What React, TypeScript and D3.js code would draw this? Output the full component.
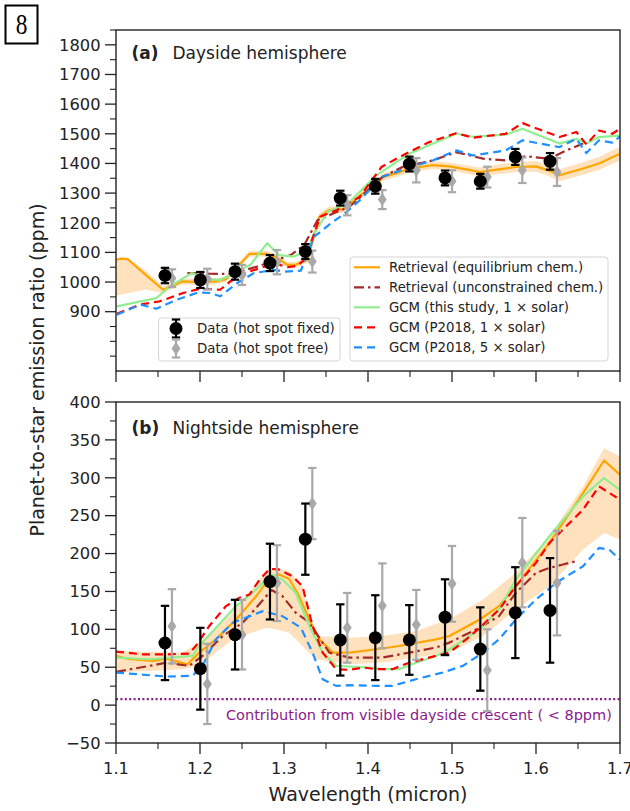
import React from "react";
import * as d3 from "d3";

// ---------- observed spectra (ppm) ----------
const binWl = [1.1583, 1.2004, 1.2417, 1.2833, 1.3254, 1.367, 1.4087, 1.4492, 1.4917, 1.5337, 1.5754, 1.6167];
const freeShift = 0.0083;

const dayFixed = [1022, 1007, 1035, 1064, 1103, 1283, 1323, 1398, 1351, 1340, 1422, 1407];
const dayFixedErr = [26, 27, 27, 27, 25, 25, 25, 25, 25, 25, 27, 28];
const dayFree = [1013, 1010, 1024, 1067, 1069, 1259, 1278, 1377, 1340, 1354, 1377, 1371];
const dayFreeErr = [30, 35, 34, 41, 37, 34, 32, 41, 37, 35, 43, 47];

const nightFixed = [82, 48, 93, 163, 219, 86, 89, 86, 116, 74, 122, 125];
const nightFixedErr = [49, 54, 46, 50, 47, 47, 56, 46, 50, 55, 60, 69];
const nightFree = [104, 28, 93, 161, 266, 102, 131, 106, 160, 46, 188, 161];
const nightFreeErr = [49, 53, 46, 50, 47, 46, 56, 46, 50, 54, 59, 69];

// ---------- dayside models ----------
const dayEqWl = [1.100, 1.106, 1.114, 1.135, 1.156, 1.179, 1.199, 1.219, 1.231, 1.259, 1.279, 1.290, 1.304, 1.314, 1.328, 1.342, 1.354, 1.370, 1.378, 1.394, 1.410, 1.417, 1.437, 1.449, 1.477, 1.497, 1.517, 1.533, 1.556, 1.576, 1.600, 1.616, 1.628, 1.656, 1.675, 1.700];
const dayEqPpm = [1075, 1079, 1077, 1025, 974, 1002, 1000, 1002, 1010, 1095, 1095, 1085, 1058, 1058, 1075, 1220, 1243, 1245, 1263, 1299, 1327, 1354, 1370, 1383, 1394, 1390, 1380, 1371, 1380, 1388, 1390, 1375, 1360, 1383, 1400, 1433];
const dayEqLo = [955, 958, 962, 975, 962, 992, 990, 992, 1000, 1085, 1085, 1075, 1048, 1048, 1065, 1208, 1231, 1233, 1251, 1287, 1315, 1341, 1357, 1370, 1381, 1377, 1366, 1356, 1364, 1371, 1372, 1356, 1340, 1362, 1378, 1410];
const dayEqHi = [1080, 1082, 1082, 1040, 986, 1012, 1010, 1012, 1020, 1105, 1105, 1095, 1068, 1068, 1085, 1232, 1255, 1257, 1275, 1311, 1339, 1367, 1383, 1396, 1407, 1403, 1394, 1386, 1396, 1405, 1408, 1394, 1380, 1404, 1422, 1456];

const dayUncWl = [1.185, 1.212, 1.236, 1.268, 1.308, 1.324, 1.340, 1.378, 1.417, 1.441, 1.477, 1.505, 1.537, 1.564, 1.588, 1.616, 1.636, 1.656];
const dayUncPpm = [1030, 1028, 1027, 1052, 1091, 1125, 1209, 1254, 1354, 1388, 1410, 1438, 1416, 1410, 1424, 1416, 1444, 1467];

const dayGcmWl = [1.101, 1.148, 1.164, 1.190, 1.208, 1.224, 1.260, 1.280, 1.294, 1.312, 1.328, 1.336, 1.352, 1.376, 1.410, 1.449, 1.505, 1.525, 1.564, 1.584, 1.628, 1.648, 1.660, 1.675, 1.700];
const dayGcmPpm = [918, 946, 985, 1030, 1010, 1007, 1058, 1131, 1091, 1086, 1108, 1164, 1237, 1265, 1360, 1433, 1500, 1490, 1497, 1517, 1467, 1483, 1467, 1489, 1494];

const dayP1Wl = [1.101, 1.129, 1.152, 1.180, 1.198, 1.212, 1.224, 1.236, 1.252, 1.272, 1.288, 1.304, 1.316, 1.324, 1.332, 1.343, 1.363, 1.390, 1.406, 1.416, 1.445, 1.473, 1.505, 1.525, 1.564, 1.584, 1.628, 1.648, 1.660, 1.675, 1.691, 1.700];
const dayP1Ppm = [893, 924, 935, 963, 976, 976, 974, 1002, 1030, 1047, 1064, 1050, 1055, 1075, 1131, 1220, 1243, 1287, 1349, 1388, 1433, 1472, 1502, 1487, 1500, 1536, 1489, 1506, 1464, 1511, 1500, 1517];

const dayP5Wl = [1.101, 1.129, 1.148, 1.172, 1.198, 1.212, 1.224, 1.244, 1.264, 1.288, 1.300, 1.320, 1.336, 1.356, 1.372, 1.390, 1.405, 1.417, 1.445, 1.477, 1.505, 1.525, 1.564, 1.584, 1.628, 1.648, 1.660, 1.675, 1.691, 1.700];
const dayP5Ppm = [890, 924, 910, 940, 965, 963, 952, 996, 1030, 1041, 1035, 1038, 1153, 1198, 1231, 1275, 1320, 1355, 1383, 1410, 1444, 1427, 1444, 1478, 1455, 1483, 1435, 1478, 1470, 1491];

// ---------- nightside models ----------
const nightEqWl = [1.100, 1.116, 1.144, 1.160, 1.185, 1.199, 1.219, 1.243, 1.267, 1.283, 1.294, 1.306, 1.318, 1.330, 1.342, 1.358, 1.378, 1.410, 1.437, 1.481, 1.497, 1.533, 1.556, 1.576, 1.616, 1.656, 1.681, 1.700];
const nightEqPpm = [65, 60.5, 58.3, 61.4, 54, 69.3, 86.8, 113, 143.9, 168, 172.4, 166.7, 143.9, 113, 86.8, 69.3, 69.3, 73.7, 78, 86.8, 91.2, 113, 130.7, 157, 214, 279.8, 322.8, 304];

const nightBandWl = [1.100, 1.179, 1.199, 1.239, 1.279, 1.290, 1.306, 1.322, 1.338, 1.378, 1.417, 1.457, 1.497, 1.537, 1.576, 1.616, 1.656, 1.681, 1.700];
const nightBandLo = [43, 47.4, 51.8, 86.8, 102.2, 100, 95.6, 78, 60.5, 54, 56.1, 62.7, 69.3, 91.2, 126.3, 157, 205.3, 227.2, 218.4];
const nightBandHi = [71.5, 69.3, 82.5, 121.9, 176.8, 181.1, 176.8, 157, 91.2, 89, 91.2, 97.8, 113.2, 139.5, 174.6, 222.8, 288.6, 339, 328];

const nightUncWl = [1.100, 1.140, 1.160, 1.187, 1.203, 1.227, 1.251, 1.267, 1.285, 1.298, 1.314, 1.328, 1.338, 1.354, 1.378, 1.417, 1.449, 1.481, 1.497, 1.533, 1.556, 1.576, 1.600, 1.616, 1.632, 1.648];
const nightUncPpm = [43.9, 51.8, 56.1, 51.8, 64.9, 91.2, 108.8, 128.5, 151.8, 143.9, 121.9, 111, 95.6, 69.3, 62.7, 62.7, 69.3, 76, 82.5, 102.2, 117.5, 148.2, 174.6, 181, 185.5, 190];

const nightGcmWl = [1.100, 1.140, 1.191, 1.199, 1.243, 1.267, 1.285, 1.298, 1.314, 1.330, 1.346, 1.362, 1.402, 1.417, 1.437, 1.457, 1.481, 1.497, 1.533, 1.556, 1.576, 1.616, 1.656, 1.681, 1.700];
const nightGcmPpm = [62.7, 60.5, 64.9, 78, 130.7, 152.6, 172.4, 165.8, 148.2, 104.4, 69.3, 51.8, 49.6, 47.4, 47.4, 56, 64.9, 73.7, 100, 126.3, 165.8, 222.8, 275.4, 299.6, 284];

const nightP1Wl = [1.100, 1.132, 1.160, 1.187, 1.195, 1.211, 1.231, 1.247, 1.259, 1.271, 1.283, 1.294, 1.310, 1.322, 1.334, 1.346, 1.362, 1.378, 1.394, 1.410, 1.429, 1.449, 1.481, 1.497, 1.517, 1.533, 1.556, 1.576, 1.600, 1.616, 1.636, 1.656, 1.675, 1.700];
const nightP1Ppm = [70.6, 67, 67, 68, 78, 104.4, 130.7, 141.7, 146, 165.8, 179.8, 179, 170, 157, 104.4, 69.3, 47.4, 46.5, 49.6, 47.4, 47.4, 56, 65, 69.3, 86.8, 102.2, 126, 157, 187.7, 214, 236, 258, 288.6, 271];

const nightP5Wl = [1.100, 1.160, 1.191, 1.203, 1.219, 1.239, 1.275, 1.298, 1.320, 1.334, 1.346, 1.362, 1.378, 1.410, 1.429, 1.457, 1.489, 1.513, 1.537, 1.556, 1.576, 1.600, 1.624, 1.656, 1.675, 1.687, 1.700];
const nightP5Ppm = [43, 37.7, 38.6, 51.8, 86.8, 108.8, 124, 117.5, 102.2, 69.3, 34.2, 25.4, 26.3, 25.4, 25.4, 34.2, 43, 51.8, 69.3, 86.8, 113, 139.5, 161.4, 183.3, 207.5, 205.3, 192];

const crescentPpm = 8;

// ---------- axis ticks ----------
const xMajor = [1.1, 1.2, 1.3, 1.4, 1.5, 1.6, 1.7];
const xMinor = [1.15, 1.25, 1.35, 1.45, 1.55, 1.65];
const dayMajor = [900, 1000, 1100, 1200, 1300, 1400, 1500, 1600, 1700, 1800];
const dayMinor = [750, 800, 850, 950, 1050, 1150, 1250, 1350, 1450, 1550, 1650, 1750, 1850];
const nightMajor = [-50, 0, 50, 100, 150, 200, 250, 300, 350, 400];
const nightMinor = [-25, 25, 75, 125, 175, 225, 275, 325, 375];

const modelLegend = [
  "Retrieval (equilibrium chem.)",
  "Retrieval (unconstrained chem.)",
  "GCM (this study, 1 \u00d7  solar)",
  "GCM (P2018, 1 \u00d7  solar)",
  "GCM (P2018, 5 \u00d7  solar)",
];
const dataLegend = ["Data (hot spot fixed)", "Data (hot spot free)"];

// ---------- styling ----------
const FONT = "DejaVu Sans, sans-serif";
const INK = "#222";
const C_EQ = "#ffa500";
const C_UNC = "#a52a2a";
const C_GCM = "#90ee90";
const C_P1 = "#ff0000";
const C_P5 = "#1e90ff";
const C_BAND = "#ffe2bd";
const C_FREE = "#a9a9a9";
const C_CRES = "#8b1a8b";

const styles = {
  eq: { stroke: C_EQ, dash: undefined as string | undefined },
  unc: { stroke: C_UNC, dash: "10,4,2.5,4" },
  gcm: { stroke: C_GCM, dash: undefined as string | undefined },
  p1: { stroke: C_P1, dash: "8,5" },
  p5: { stroke: C_P5, dash: "8,5" },
};

const X0 = 116, X1 = 620;
const x = d3.scaleLinear().domain([1.1, 1.7]).range([X0, X1]);
const yDay = d3.scaleLinear().domain([700, 1850]).range([371, 30]);
const yNight = d3.scaleLinear().domain([-50, 400]).range([743, 402]);

type Scale = d3.ScaleLinear<number, number>;

function curve(wl: number[], v: number[], y: Scale) {
  const pts = wl.map((w, i) => [w, v[i]] as [number, number]);
  return d3.line<[number, number]>().x((d) => x(d[0])).y((d) => y(d[1]))(pts) || "";
}

function band(wl: number[], lo: number[], hi: number[], y: Scale) {
  const idx = wl.map((_, i) => i);
  return (
    d3
      .area<number>()
      .x((i) => x(wl[i]))
      .y0((i) => y(lo[i]))
      .y1((i) => y(hi[i]))(idx) || ""
  );
}

function ModelLine({ d, s }: { d: string; s: { stroke: string; dash?: string } }) {
  return <path d={d} fill="none" stroke={s.stroke} strokeWidth={2.2} strokeDasharray={s.dash} strokeLinejoin="round" />;
}

function ErrPoint({ cx, cy, lo, hi, color, marker }: { cx: number; cy: number; lo: number; hi: number; color: string; marker: "o" | "d" }) {
  const cap = 4.2;
  return (
    <g>
      <line x1={cx} x2={cx} y1={lo} y2={hi} stroke={color} strokeWidth={2.2} />
      <line x1={cx - cap} x2={cx + cap} y1={lo} y2={lo} stroke={color} strokeWidth={2.2} />
      <line x1={cx - cap} x2={cx + cap} y1={hi} y2={hi} stroke={color} strokeWidth={2.2} />
      {marker === "o" ? (
        <circle cx={cx} cy={cy} r={6.5} fill={color} />
      ) : (
        <path d={`M${cx},${cy - 6.5}L${cx + 4.5},${cy}L${cx},${cy + 6.5}L${cx - 4.5},${cy}Z`} fill={color} />
      )}
    </g>
  );
}

function DataSeries({ vals, errs, shift, y, color, marker }: { vals: number[]; errs: number[]; shift: number; y: Scale; color: string; marker: "o" | "d" }) {
  return (
    <g>
      {vals.map((v, i) => (
        <ErrPoint key={i} cx={x(binWl[i] + shift)} cy={y(v)} lo={y(v - errs[i])} hi={y(v + errs[i])} color={color} marker={marker} />
      ))}
    </g>
  );
}

function Axes({ y, major, minor, top, bottom, showX }: { y: Scale; major: number[]; minor: number[]; top: number; bottom: number; showX: boolean }) {
  return (
    <g>
      <rect x={X0} y={top} width={X1 - X0} height={bottom - top} fill="none" stroke={INK} strokeWidth={1.4} />
      {major.map((v) => (
        <g key={`ym${v}`}>
          <line x1={X0 - 11} x2={X0} y1={y(v)} y2={y(v)} stroke={INK} strokeWidth={1.3} />
          <text x={X0 - 15.5} y={y(v) + 5.8} textAnchor="end" fontSize={16.3} fontFamily={FONT} fill={INK}>
            {v < 0 ? `\u2212${-v}` : v}
          </text>
        </g>
      ))}
      {minor.map((v) => (
        <line key={`yn${v}`} x1={X0 - 6} x2={X0} y1={y(v)} y2={y(v)} stroke={INK} strokeWidth={1.1} />
      ))}
      {xMajor.map((w) => (
        <g key={`xm${w}`}>
          <line x1={x(w)} x2={x(w)} y1={bottom} y2={bottom + 11} stroke={INK} strokeWidth={1.3} />
          {showX && (
            <text x={x(w)} y={bottom + 30.5} textAnchor="middle" fontSize={16.3} fontFamily={FONT} fill={INK}>
              {w.toFixed(1)}
            </text>
          )}
        </g>
      ))}
      {xMinor.map((w) => (
        <line key={`xn${w}`} x1={x(w)} x2={x(w)} y1={bottom} y2={bottom + 6} stroke={INK} strokeWidth={1.1} />
      ))}
    </g>
  );
}

export default function App() {
  const legendRows = [267.3, 287.3, 307.3, 327.3, 347.3];
  const legendStyles = [styles.eq, styles.unc, styles.gcm, styles.p1, styles.p5];
  return (
    <svg width={630} height={811} viewBox="0 0 630 811" style={{ position: "absolute", left: 0, top: 0, background: "#fff" }}>
      <rect x={0} y={0} width={630} height={811} fill="#fff" />

      {/* figure number */}
      <rect x={5.5} y={5.5} width={32} height={38} fill="#fff" stroke="#000" strokeWidth={2} />
      <text x={21.5} y={34} textAnchor="middle" fontSize={30} fontFamily="Liberation Serif, serif" fill="#000" transform="translate(21.5,0) scale(0.78,1) translate(-21.5,0)">
        8
      </text>

      <defs>
        <clipPath id="clipDay">
          <rect x={X0} y={30} width={X1 - X0} height={341} />
        </clipPath>
        <clipPath id="clipNight">
          <rect x={X0} y={402} width={X1 - X0} height={341} />
        </clipPath>
      </defs>

      {/* (a) dayside */}
      <g clipPath="url(#clipDay)">
        <path d={band(dayEqWl, dayEqLo, dayEqHi, yDay)} fill={C_BAND} stroke="none" />
        <ModelLine d={curve(dayEqWl, dayEqPpm, yDay)} s={styles.eq} />
        <ModelLine d={curve(dayUncWl, dayUncPpm, yDay)} s={styles.unc} />
        <ModelLine d={curve(dayGcmWl, dayGcmPpm, yDay)} s={styles.gcm} />
        <ModelLine d={curve(dayP1Wl, dayP1Ppm, yDay)} s={styles.p1} />
        <ModelLine d={curve(dayP5Wl, dayP5Ppm, yDay)} s={styles.p5} />
        <DataSeries vals={dayFree} errs={dayFreeErr} shift={freeShift} y={yDay} color={C_FREE} marker="d" />
        <DataSeries vals={dayFixed} errs={dayFixedErr} shift={0} y={yDay} color="#000" marker="o" />
      </g>
      <Axes y={yDay} major={dayMajor} minor={dayMinor} top={30} bottom={371} showX={false} />
      <text x={131.5} y={59} fontSize={17} fontFamily={FONT} fontWeight="bold" fill={INK}>(a)</text>
      <text x={172.5} y={59} fontSize={17} fontFamily={FONT} fill={INK}>Dayside hemisphere</text>

      {/* data legend */}
      <rect x={158.5} y={318} width={181.5} height={43} rx={3} fill="#fff" fillOpacity={0.8} stroke="#d5d5d5" strokeWidth={1} />
      <ErrPoint cx={176} cy={328.5} lo={337.5} hi={319.5} color="#000" marker="o" />
      <ErrPoint cx={176} cy={348.5} lo={357.5} hi={339.5} color={C_FREE} marker="d" />
      {dataLegend.map((t, i) => (
        <text key={t} x={197} y={333 + i * 20} fontSize={13.3} fontFamily={FONT} fill={INK}>{t}</text>
      ))}

      {/* model legend */}
      <rect x={350} y={257} width={258} height={104} rx={3} fill="#fff" fillOpacity={0.8} stroke="#d5d5d5" strokeWidth={1} />
      {modelLegend.map((t, i) => (
        <g key={t}>
          <line x1={354} x2={380} y1={legendRows[i]} y2={legendRows[i]} stroke={legendStyles[i].stroke} strokeWidth={2.2} strokeDasharray={legendStyles[i].dash} />
          <text x={389} y={legendRows[i] + 4.6} fontSize={13.3} fontFamily={FONT} fill={INK}>{t}</text>
        </g>
      ))}

      {/* (b) nightside */}
      <g clipPath="url(#clipNight)">
        <path d={band(nightBandWl, nightBandLo, nightBandHi, yNight)} fill={C_BAND} stroke="none" />
        <ModelLine d={curve(nightEqWl, nightEqPpm, yNight)} s={styles.eq} />
        <ModelLine d={curve(nightUncWl, nightUncPpm, yNight)} s={styles.unc} />
        <ModelLine d={curve(nightGcmWl, nightGcmPpm, yNight)} s={styles.gcm} />
        <ModelLine d={curve(nightP1Wl, nightP1Ppm, yNight)} s={styles.p1} />
        <ModelLine d={curve(nightP5Wl, nightP5Ppm, yNight)} s={styles.p5} />
        <line x1={X0} x2={X1} y1={yNight(crescentPpm)} y2={yNight(crescentPpm)} stroke={C_CRES} strokeWidth={2.2} strokeDasharray="2,2.4" />
        <DataSeries vals={nightFree} errs={nightFreeErr} shift={freeShift} y={yNight} color={C_FREE} marker="d" />
        <DataSeries vals={nightFixed} errs={nightFixedErr} shift={0} y={yNight} color="#000" marker="o" />
      </g>
      <Axes y={yNight} major={nightMajor} minor={nightMinor} top={402} bottom={743} showX={true} />
      <text x={131.5} y={433.5} fontSize={17} fontFamily={FONT} fontWeight="bold" fill={INK}>(b)</text>
      <text x={172.5} y={433.5} fontSize={17} fontFamily={FONT} fill={INK}>Nightside hemisphere</text>
      <text x={226} y={719.5} fontSize={14.5} fontFamily={FONT} fill={C_CRES}>
        Contribution from visible dayside crescent ( &lt; 8ppm)
      </text>

      {/* axis titles */}
      <text x={368} y={801} textAnchor="middle" fontSize={19} fontFamily={FONT} fill={INK}>Wavelength (micron)</text>
      <text transform="translate(44,370) rotate(-90)" textAnchor="middle" fontSize={19} fontFamily={FONT} fill={INK}>
        Planet-to-star emission ratio (ppm)
      </text>
    </svg>
  );
}
